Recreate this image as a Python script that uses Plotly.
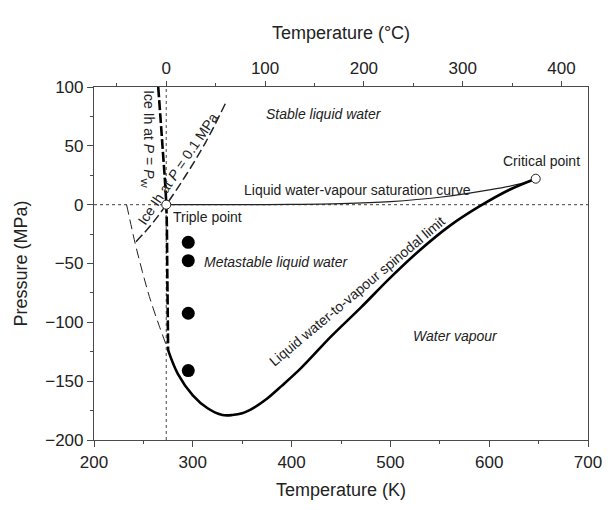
import plotly.graph_objects as go

# ---------------- data ----------------
sat_T = [273.16, 300, 350, 400, 450, 500, 550, 600, 630, 647.1]
sat_P = [0.0006, 0.0035, 0.042, 0.25, 0.93, 2.64, 6.3, 12.5, 17.4, 22.06]

spin_T = [274.9, 285, 300, 315, 330, 340, 350, 362, 375, 390, 410, 440, 470, 500, 530, 560, 590, 620, 647.1]
spin_P = [-123.4, -144, -162, -173, -178.7, -178.8, -177.3, -172.5, -165, -154, -138.5, -112, -87.5, -62, -38.5, -18, -1.5, 12.5, 22.06]

icePw_T = [265.0, 269.3, 273.16, 274.2, 275.0]
icePw_P = [100, 50, 0, -60, -124]

ice01_T = [242.5, 258, 273.16, 293, 313, 333]
ice01_P = [-31.5, -17, 0, 25, 53, 86]

nuc_T = [233, 241.7, 249, 256, 266, 275]
nuc_P = [0, -33, -57, -78, -103, -123.5]

exp_T = [295.4, 295.4, 295.4, 295.4]
exp_P = [-32, -47.6, -92.3, -141]

triple_T = [273.16]
triple_P = [0.0006]
crit_T = [647.1]
crit_P = [22.06]

x_range = [200, 700]
y_range = [-200, 100]
K0 = 273.15
ref_T = [273.15]
ref_P = [0]

FONT = "Liberation Sans, Arial, sans-serif"
AX = "#4a4a4a"
TXT = "#222222"

fig = go.Figure()

def line(x, y, width, color="black", dash="solid", shape="linear"):
    fig.add_trace(go.Scatter(x=x, y=y, mode="lines", hoverinfo="skip",
                             line=dict(width=width, color=color, dash=dash, shape=shape),
                             showlegend=False))

# dotted reference lines
line([ref_T[0], ref_T[0]], y_range, 1.2, "#666", "dot")
line(x_range, [ref_P[0], ref_P[0]], 1.2, "#666", "dot")

# curves
line(nuc_T, nuc_P, 1, "#222", "10px,5px", "spline")
line(ice01_T, ice01_P, 1.5, "#222", "9px,4px", "spline")
line(icePw_T, icePw_P, 2.6, "black", "10px,3px", "spline")
line(sat_T, sat_P, 1.2, "#222", "solid", "spline")
line(spin_T, spin_P, 2.6, "black", "solid", "spline")

# points
fig.add_trace(go.Scatter(x=exp_T, y=exp_P, mode="markers", hoverinfo="skip", showlegend=False,
                         marker=dict(size=13, color="black")))
fig.add_trace(go.Scatter(x=triple_T + crit_T, y=triple_P + crit_P, mode="markers", hoverinfo="skip",
                         showlegend=False,
                         marker=dict(size=9, color="white", line=dict(color="#222", width=1))))

# invisible trace for the top (Celsius) axis
fig.add_trace(go.Scatter(x=[t - K0 for t in sat_T], y=sat_P, xaxis="x2", mode="lines",
                         line=dict(color="rgba(0,0,0,0)"), hoverinfo="skip", showlegend=False))

def ann(x, y, text, angle=0, size=14, italic=False):
    if italic:
        text = "<i>" + text + "</i>"
    fig.add_annotation(x=x, y=y, xref="x", yref="y", text=text, showarrow=False,
                       textangle=angle, font=dict(family=FONT, size=size, color=TXT))

ann(432.6, 77.3, "Stable liquid water", italic=True)
ann(466.4, 12.5, "Liquid water-vapour saturation curve")
ann(652.8, 37.5, "Critical point")
ann(315.3, -10.5, "Triple point")
ann(384.9, -48.9, "Metastable liquid water", italic=True)
ann(565.8, -112, "Water vapour", italic=True)
ann(466.5, -73.5, "Liquid water-to-vapour spinodal limit", angle=-40)
ann(254.5, 55.8, "Ice Ih at <i>P</i> = <i>P</i><sub>W</sub>", angle=90)
ann(284.5, 30.5, "Ice Ih at <i>P</i> = 0.1 MPa", angle=-56)

tickfont = dict(family=FONT, size=17, color=TXT)
titlefont = dict(family=FONT, size=18, color=TXT)

fig.update_layout(
    width=614, height=510,
    margin=dict(l=94, r=17, t=87, b=70),
    paper_bgcolor="white", plot_bgcolor="white",
    xaxis=dict(range=x_range, dtick=100, tick0=200, showgrid=False, zeroline=False,
               showline=True, linecolor=AX, linewidth=1.2,
               ticks="outside", ticklen=6, tickcolor=AX, tickwidth=1.2,
               minor=dict(dtick=50, ticks="outside", ticklen=3, tickcolor=AX, showgrid=False),
               tickfont=tickfont,
               title=dict(text="Temperature (K)", font=titlefont, standoff=12)),
    xaxis2=dict(range=[x_range[0] - K0, x_range[1] - K0], overlaying="x", side="top",
                tick0=0, dtick=100, showgrid=False, zeroline=False,
                showline=True, linecolor=AX, linewidth=1.2,
                ticks="outside", ticklen=5, tickcolor=AX, tickwidth=1.2,
                minor=dict(dtick=50, ticks="outside", ticklen=3, tickcolor=AX, showgrid=False),
                tickfont=tickfont,
                title=dict(text="Temperature (°C)", font=titlefont, standoff=14)),
    yaxis=dict(range=y_range, dtick=50, showgrid=False, zeroline=False,
               showline=True, linecolor=AX, linewidth=1.2, mirror=True,
               ticks="outside", ticklen=6, tickcolor=AX, tickwidth=1.2,
               minor=dict(dtick=25, ticks="outside", ticklen=3, tickcolor=AX, showgrid=False),
               tickfont=tickfont,
               title=dict(text="Pressure (MPa)", font=titlefont, standoff=12)),
)

fig.write_html("out.html")
